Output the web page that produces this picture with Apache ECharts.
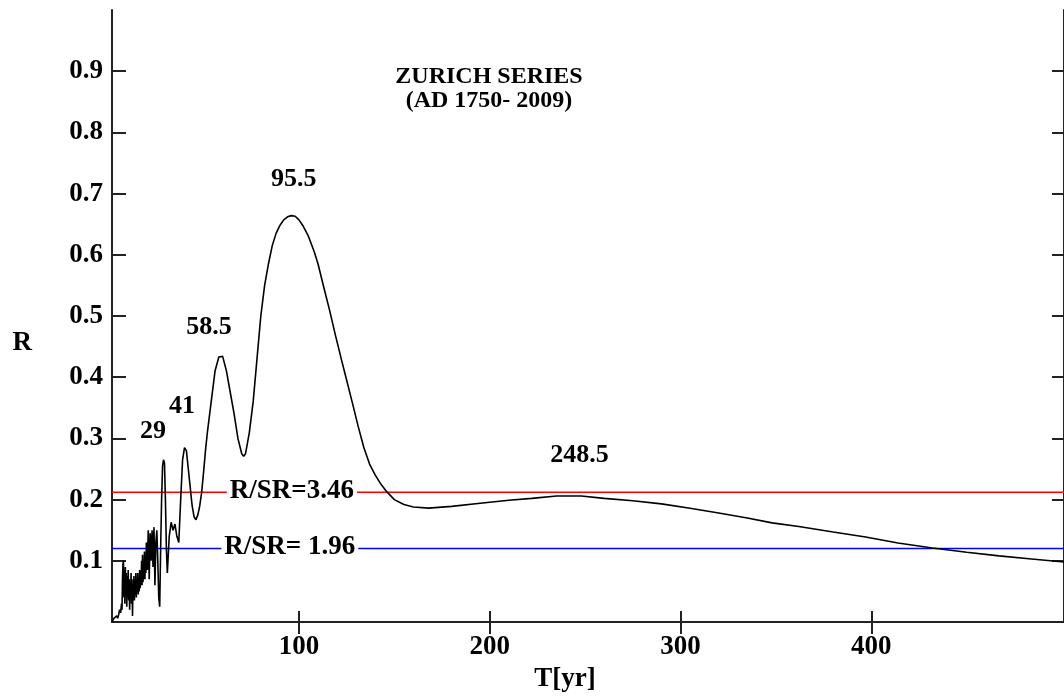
<!DOCTYPE html>
<html>
<head>
<meta charset="utf-8">
<script src="https://cdn.jsdelivr.net/npm/echarts@6/dist/echarts.min.js"></script>
<style>
html,body{margin:0;padding:0;background:#fff;}
#chart{width:1064px;height:700px;}
</style>
</head>
<body>
<div id="chart"></div>
<script>
// Period T [yr]
const periodT = [2,2.5,3,3.5,4,4.5,5,5.5,6,6.5,7,7.25,7.5,7.75,8,8.25,8.5,8.75,9,9.25,9.5,9.75,10,10.25,10.5,10.75,11,11.25,11.5,11.75,12,12.25,12.5,12.75,13,13.25,13.5,13.75,14,14.25,14.5,14.75,15,15.25,15.5,15.75,16,16.25,16.5,16.75,17,17.25,17.5,17.75,18,18.25,18.5,18.75,19,19.25,19.5,19.75,20,20.5,21,21.5,22,22.5,23,23.5,24,24.5,25,25.5,26,26.5,27,27.5,28,28.5,29,29.5,30,30.5,31,31.5,32,33,34,35,36,37,38,39,40,41,42,43,44,45,46,47,48,49,50,51,52,54,56,58,59,60,62,64,66,68,70,71,72,74,76,78,80,82,84,86,88,90,92,94,96,98,100,102,105,108,110,113,116,119,122,125,128,131,134,137,140,143,146,150,155,160,168,180,195,210,222,235,248,260,275,290,305,320,335,348,362,380,397,414,432,450,467,484,501];
// Spectral amplitude R
const amplitudeR = [0.0,0.003,0.006,0.004,0.008,0.01,0.006,0.012,0.02,0.015,0.03,0.02,0.07,0.095,0.1,0.04,0.085,0.03,0.09,0.045,0.08,0.025,0.075,0.04,0.085,0.035,0.07,0.02,0.065,0.045,0.08,0.03,0.07,0.01,0.06,0.04,0.075,0.035,0.07,0.045,0.08,0.04,0.065,0.05,0.08,0.045,0.07,0.05,0.085,0.055,0.075,0.06,0.1,0.06,0.11,0.065,0.09,0.07,0.115,0.07,0.1,0.08,0.13,0.085,0.15,0.07,0.145,0.1,0.15,0.09,0.155,0.06,0.13,0.15,0.1,0.04,0.025,0.12,0.2,0.255,0.265,0.26,0.2,0.12,0.08,0.11,0.14,0.163,0.15,0.16,0.14,0.13,0.2,0.265,0.285,0.28,0.25,0.22,0.19,0.172,0.167,0.175,0.19,0.212,0.245,0.28,0.31,0.36,0.41,0.433,0.436,0.434,0.41,0.375,0.34,0.3,0.275,0.271,0.275,0.31,0.36,0.43,0.5,0.55,0.585,0.615,0.635,0.648,0.657,0.662,0.664,0.663,0.657,0.648,0.63,0.605,0.585,0.547,0.51,0.47,0.432,0.395,0.358,0.32,0.285,0.258,0.24,0.225,0.213,0.2,0.192,0.188,0.186,0.189,0.194,0.199,0.202,0.206,0.206,0.202,0.198,0.193,0.186,0.178,0.17,0.162,0.156,0.147,0.139,0.129,0.121,0.114,0.108,0.103,0.098];
// Significance levels
const levelNames = ['R/SR=3.46','R/SR= 1.96'];
const levelValues = [0.212, 0.12];
const levelColors = ['#ff0000', '#0000ff'];
const levelLabelAt = [[96.3, 0.214], [95.2, 0.122]];
// Peak annotations
const peakLabels = ['95.5','58.5','41','29','248.5'];
const peakLabelAt = [[97.3,0.723],[52.9,0.482],[38.7,0.353],[23.5,0.312],[247,0.273]];
// Axis ticks
const xTicks = [100,200,300,400];
const yTicks = [0.1,0.2,0.3,0.4,0.5,0.6,0.7,0.8,0.9];
const xMin = 2, xMax = 501;

const FONT = '"Liberation Serif", "Times New Roman", serif';
const curveData = periodT.map((t,i)=>[t, amplitudeR[i]]);

const chart = echarts.init(document.getElementById('chart'));
const lineStyleAxis = {color:'#222', width:2};
const series = [];
levelValues.forEach((v,i)=>{
  series.push({type:'line', data:[[xMin,v],[xMax,v]], showSymbol:false, silent:true, z:1,
    lineStyle:{color:levelColors[i], width:1.5}, itemStyle:{color:levelColors[i]}});
});
series.push({type:'scatter', symbolSize:0, z:2, silent:true, itemStyle:{opacity:1},
  data: levelNames.map((n,i)=>({name:n, value:levelLabelAt[i]})),
  label:{show:true, position:'inside', formatter:p=>p.name, color:'#000', fontFamily:FONT, fontWeight:'bold', fontSize:27,
    backgroundColor:'#fff', padding:[0,3]}});
series.push({type:'line', data:curveData, showSymbol:false, z:5,
  lineStyle:{color:'#000', width:1.6}, itemStyle:{color:'#000'}});
series.push({type:'scatter', symbolSize:0, z:6, silent:true, itemStyle:{opacity:1},
  data: peakLabels.map((n,i)=>({name:n, value:peakLabelAt[i]})),
  label:{show:true, position:'inside', formatter:p=>p.name, color:'#000', fontFamily:FONT, fontWeight:'bold', fontSize:26}});

chart.setOption({
  animation:false,
  backgroundColor:'#fff',
  title:{text:'ZURICH SERIES\n(AD 1750- 2009)', left:489, top:65, textAlign:'center', padding:0,
    textStyle:{fontFamily:FONT, fontWeight:'bold', fontSize:24, lineHeight:24, color:'#000'}},
  grid:{left:112, right:-2, top:10, bottom:78},
  xAxis:[
    {type:'value', min:xMin, max:xMax, position:'bottom', splitLine:{show:false},
     axisLine:{lineStyle:lineStyleAxis},
     axisTick:{inside:true, length:11, lineStyle:lineStyleAxis, customValues:xTicks},
     axisLabel:{customValues:xTicks, fontFamily:FONT, fontWeight:'bold', fontSize:27, color:'#000', margin:12},
     name:'T[yr]', nameLocation:'middle', nameGap:44,
     nameTextStyle:{fontFamily:FONT, fontWeight:'bold', fontSize:27, color:'#000', padding:[0,46,0,0]}},
    {type:'value', min:xMin, max:xMax, position:'top', splitLine:{show:false},
     axisLine:{lineStyle:lineStyleAxis},
     axisTick:{inside:true, length:12, lineStyle:lineStyleAxis, customValues:xTicks},
     axisLabel:{show:false}}
  ],
  yAxis:[
    {type:'value', min:0, max:1, position:'left', splitLine:{show:false},
     axisLine:{lineStyle:lineStyleAxis},
     axisTick:{inside:true, length:14, lineStyle:lineStyleAxis, customValues:yTicks},
     axisLabel:{customValues:yTicks, formatter:v=>v.toFixed(1), fontFamily:FONT, fontWeight:'bold', fontSize:27, color:'#000', margin:9},
     name:'R', nameLocation:'middle', nameRotate:0, nameGap:80,
     nameTextStyle:{fontFamily:FONT, fontWeight:'bold', fontSize:27, color:'#000', verticalAlign:'top', padding:[14,0,0,0]}},
    {type:'value', min:0, max:1, position:'right', splitLine:{show:false},
     axisLine:{lineStyle:lineStyleAxis},
     axisTick:{inside:true, length:12, lineStyle:lineStyleAxis, customValues:yTicks},
     axisLabel:{show:false}}
  ],
  series: series
});
</script>
</body>
</html>
